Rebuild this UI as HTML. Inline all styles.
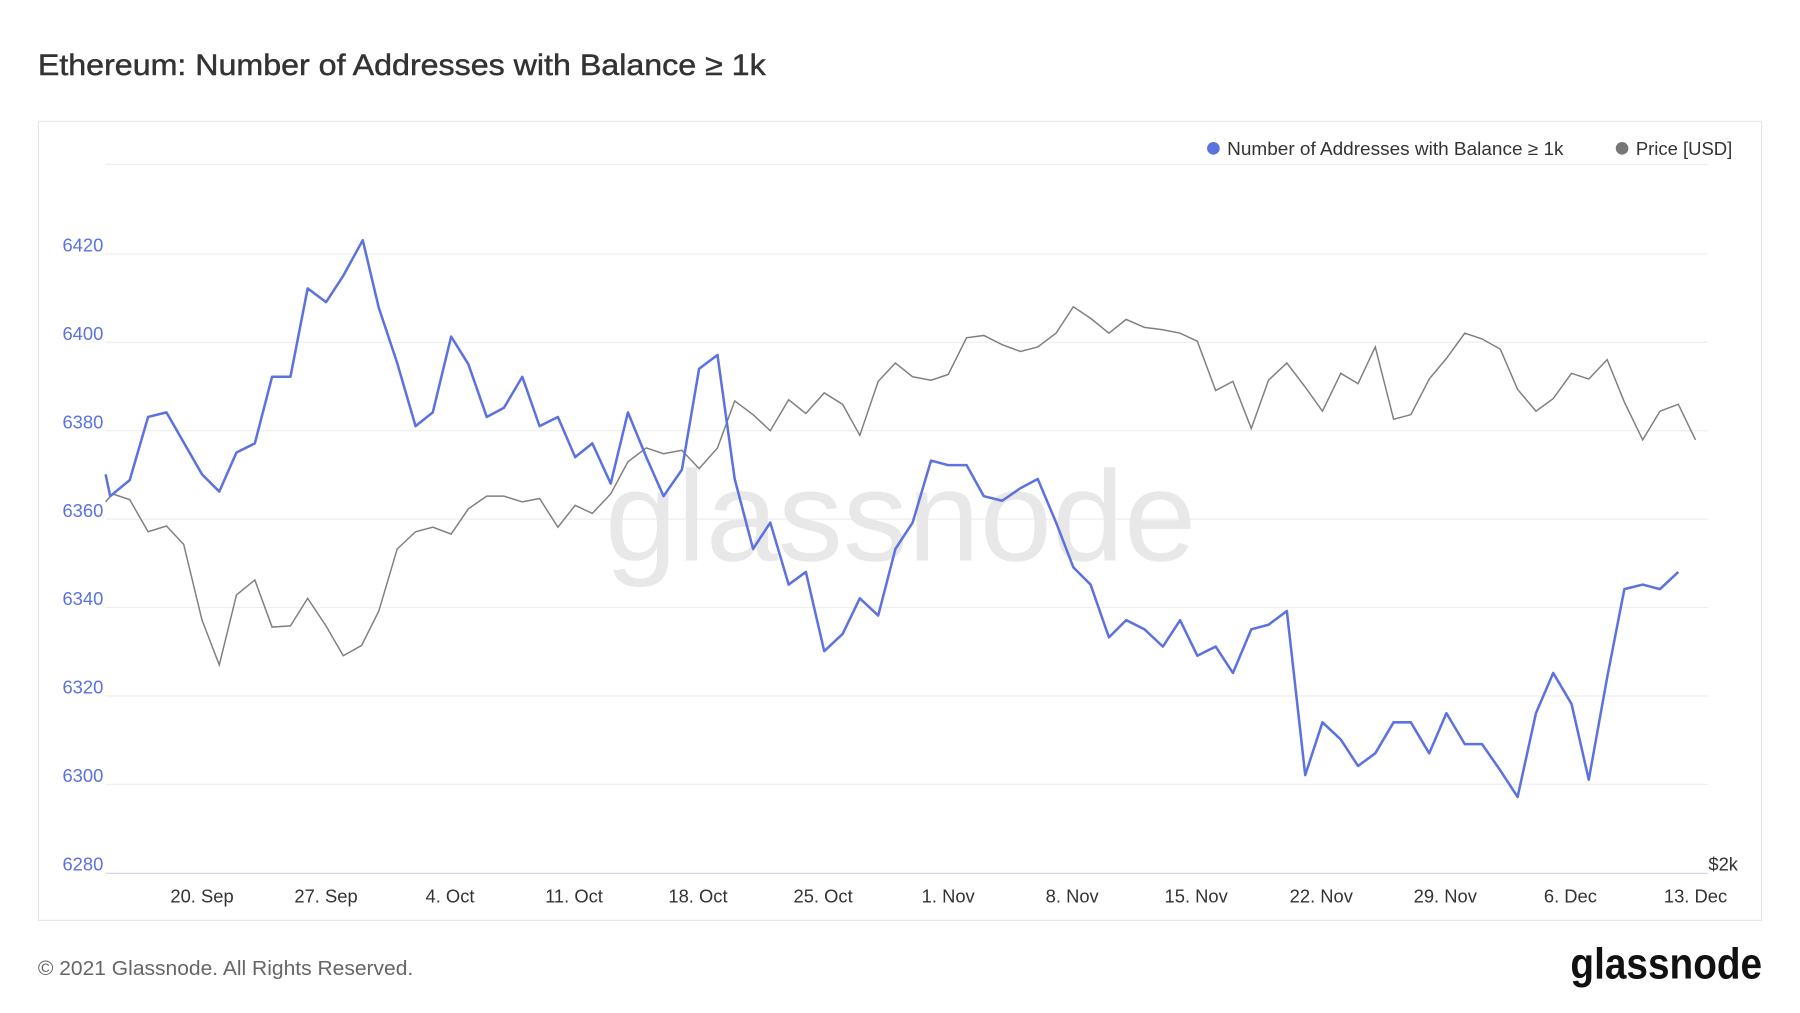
<!DOCTYPE html>
<html><head><meta charset="utf-8"><style>html,body{margin:0;padding:0;background:#fff;}svg{display:block}</style></head>
<body>
<svg width="1800" height="1013" viewBox="0 0 1568 882" xmlns="http://www.w3.org/2000/svg" font-family="Liberation Sans, sans-serif">
<rect width="1568" height="882" fill="#fff"/>
<text x="33" y="65" font-size="26" fill="#333" textLength="634" lengthAdjust="spacingAndGlyphs" stroke="#333" stroke-width="0.4">Ethereum: Number of Addresses with Balance ≥ 1k</text>
<rect x="33.5" y="105.5" width="1501" height="696" fill="none" stroke="#e6e6e6"/>
<g stroke="#eeeeee" stroke-width="1">
<line x1="92" x2="1488" y1="143" y2="143"/><line x1="92" x2="1488" y1="221" y2="221"/><line x1="92" x2="1488" y1="298" y2="298"/><line x1="92" x2="1488" y1="375" y2="375"/><line x1="92" x2="1488" y1="452" y2="452"/><line x1="92" x2="1488" y1="529" y2="529"/><line x1="92" x2="1488" y1="606" y2="606"/><line x1="92" x2="1488" y1="683" y2="683"/>
</g>
<line x1="92" x2="1488" y1="760.5" y2="760.5" stroke="#ccd6eb"/>
<text x="527" y="488" font-size="112" fill="#e8e8e8" textLength="515" lengthAdjust="spacingAndGlyphs">glassnode</text>
<g font-size="16" fill="#5b72e0" text-anchor="end">
<text x="90" y="219">6420</text><text x="90" y="296">6400</text><text x="90" y="373">6380</text><text x="90" y="450">6360</text><text x="90" y="527">6340</text><text x="90" y="604">6320</text><text x="90" y="681">6300</text><text x="90" y="758">6280</text>
</g>
<text x="1514" y="758" font-size="16" fill="#333" text-anchor="end">$2k</text>
<g font-size="16" fill="#333" text-anchor="middle">
<text x="176" y="786">20. Sep</text><text x="284" y="786">27. Sep</text><text x="392" y="786">4. Oct</text><text x="500" y="786">11. Oct</text><text x="608" y="786">18. Oct</text><text x="717" y="786">25. Oct</text><text x="826" y="786">1. Nov</text><text x="934" y="786">8. Nov</text><text x="1042" y="786">15. Nov</text><text x="1151" y="786">22. Nov</text><text x="1259" y="786">29. Nov</text><text x="1368" y="786">6. Dec</text><text x="1477" y="786">13. Dec</text>
</g>
<g font-size="16" fill="#333">
<circle cx="1057" cy="129" r="5.5" fill="#5b72e0"/><text x="1069" y="135" textLength="293" lengthAdjust="spacingAndGlyphs">Number of Addresses with Balance ≥ 1k</text>
<circle cx="1413" cy="129" r="5.5" fill="#777"/><text x="1425" y="135" textLength="84" lengthAdjust="spacingAndGlyphs">Price [USD]</text>
</g>
<polyline fill="none" stroke="#808080" stroke-width="1.3" points="92,437 98,430 113,435 129,463 145,458 160,474 176,540 191,579 206,518 222,505 237,546 253,545 268,521 284,545 299,571 315,562 330,532 346,478 362,463 377,459 393,465 408,443 424,432 439,432 455,437 470,434 486,459 501,440 516,447 532,430 547,402 563,390 578,395 594,392 609,408 625,390 640,349 656,361 671,375 687,348 702,360 718,342 734,352 749,379 765,332 780,316 795,328 811,331 826,326 842,294 857,292 873,300 889,306 904,302 920,290 935,267 950,277 966,290 981,278 997,285 1013,287 1028,290 1043,297 1059,340 1074,332 1090,373 1105,331 1121,316 1137,337 1152,358 1168,325 1183,334 1198,302 1214,365 1229,361 1245,330 1260,312 1276,290 1291,295 1307,304 1322,339 1338,358 1353,347 1369,325 1384,330 1400,313 1415,350 1431,383 1446,358 1462,352 1477,383"/>
<polyline fill="none" stroke="#5b72e0" stroke-width="2.2" stroke-linejoin="round" points="92,413 96,432 113,418 129,363 145,359 176,413 191,428 206,394 222,386 237,328 253,328 268,251 284,263 299,240 316,209 330,268 346,316 362,371 377,359 393,293 408,317 424,363 439,355 455,328 470,371 486,363 501,398 516,386 532,421 547,359 563,398 578,432 594,409 609,321 625,309 640,417 656,478 671,455 687,509 702,498 718,567 734,552 749,521 765,536 780,478 795,455 811,401 826,405 842,405 857,432 873,436 889,425 904,417 920,455 935,494 950,509 966,555 981,540 997,548 1013,563 1028,540 1043,571 1059,563 1074,586 1090,548 1105,544 1121,532 1137,675 1152,629 1168,644 1183,667 1198,656 1214,629 1229,629 1245,656 1260,621 1276,648 1291,648 1307,671 1322,694 1338,621 1353,586 1369,613 1384,679 1400,590 1415,513 1431,509 1446,513 1462,498"/>
<text x="33" y="849" font-size="18" fill="#666" textLength="327" lengthAdjust="spacingAndGlyphs">© 2021 Glassnode. All Rights Reserved.</text>
<text x="1368" y="852" font-size="38" fill="#111" font-weight="bold" textLength="167" lengthAdjust="spacingAndGlyphs">glassnode</text>
</svg>
</body></html>
